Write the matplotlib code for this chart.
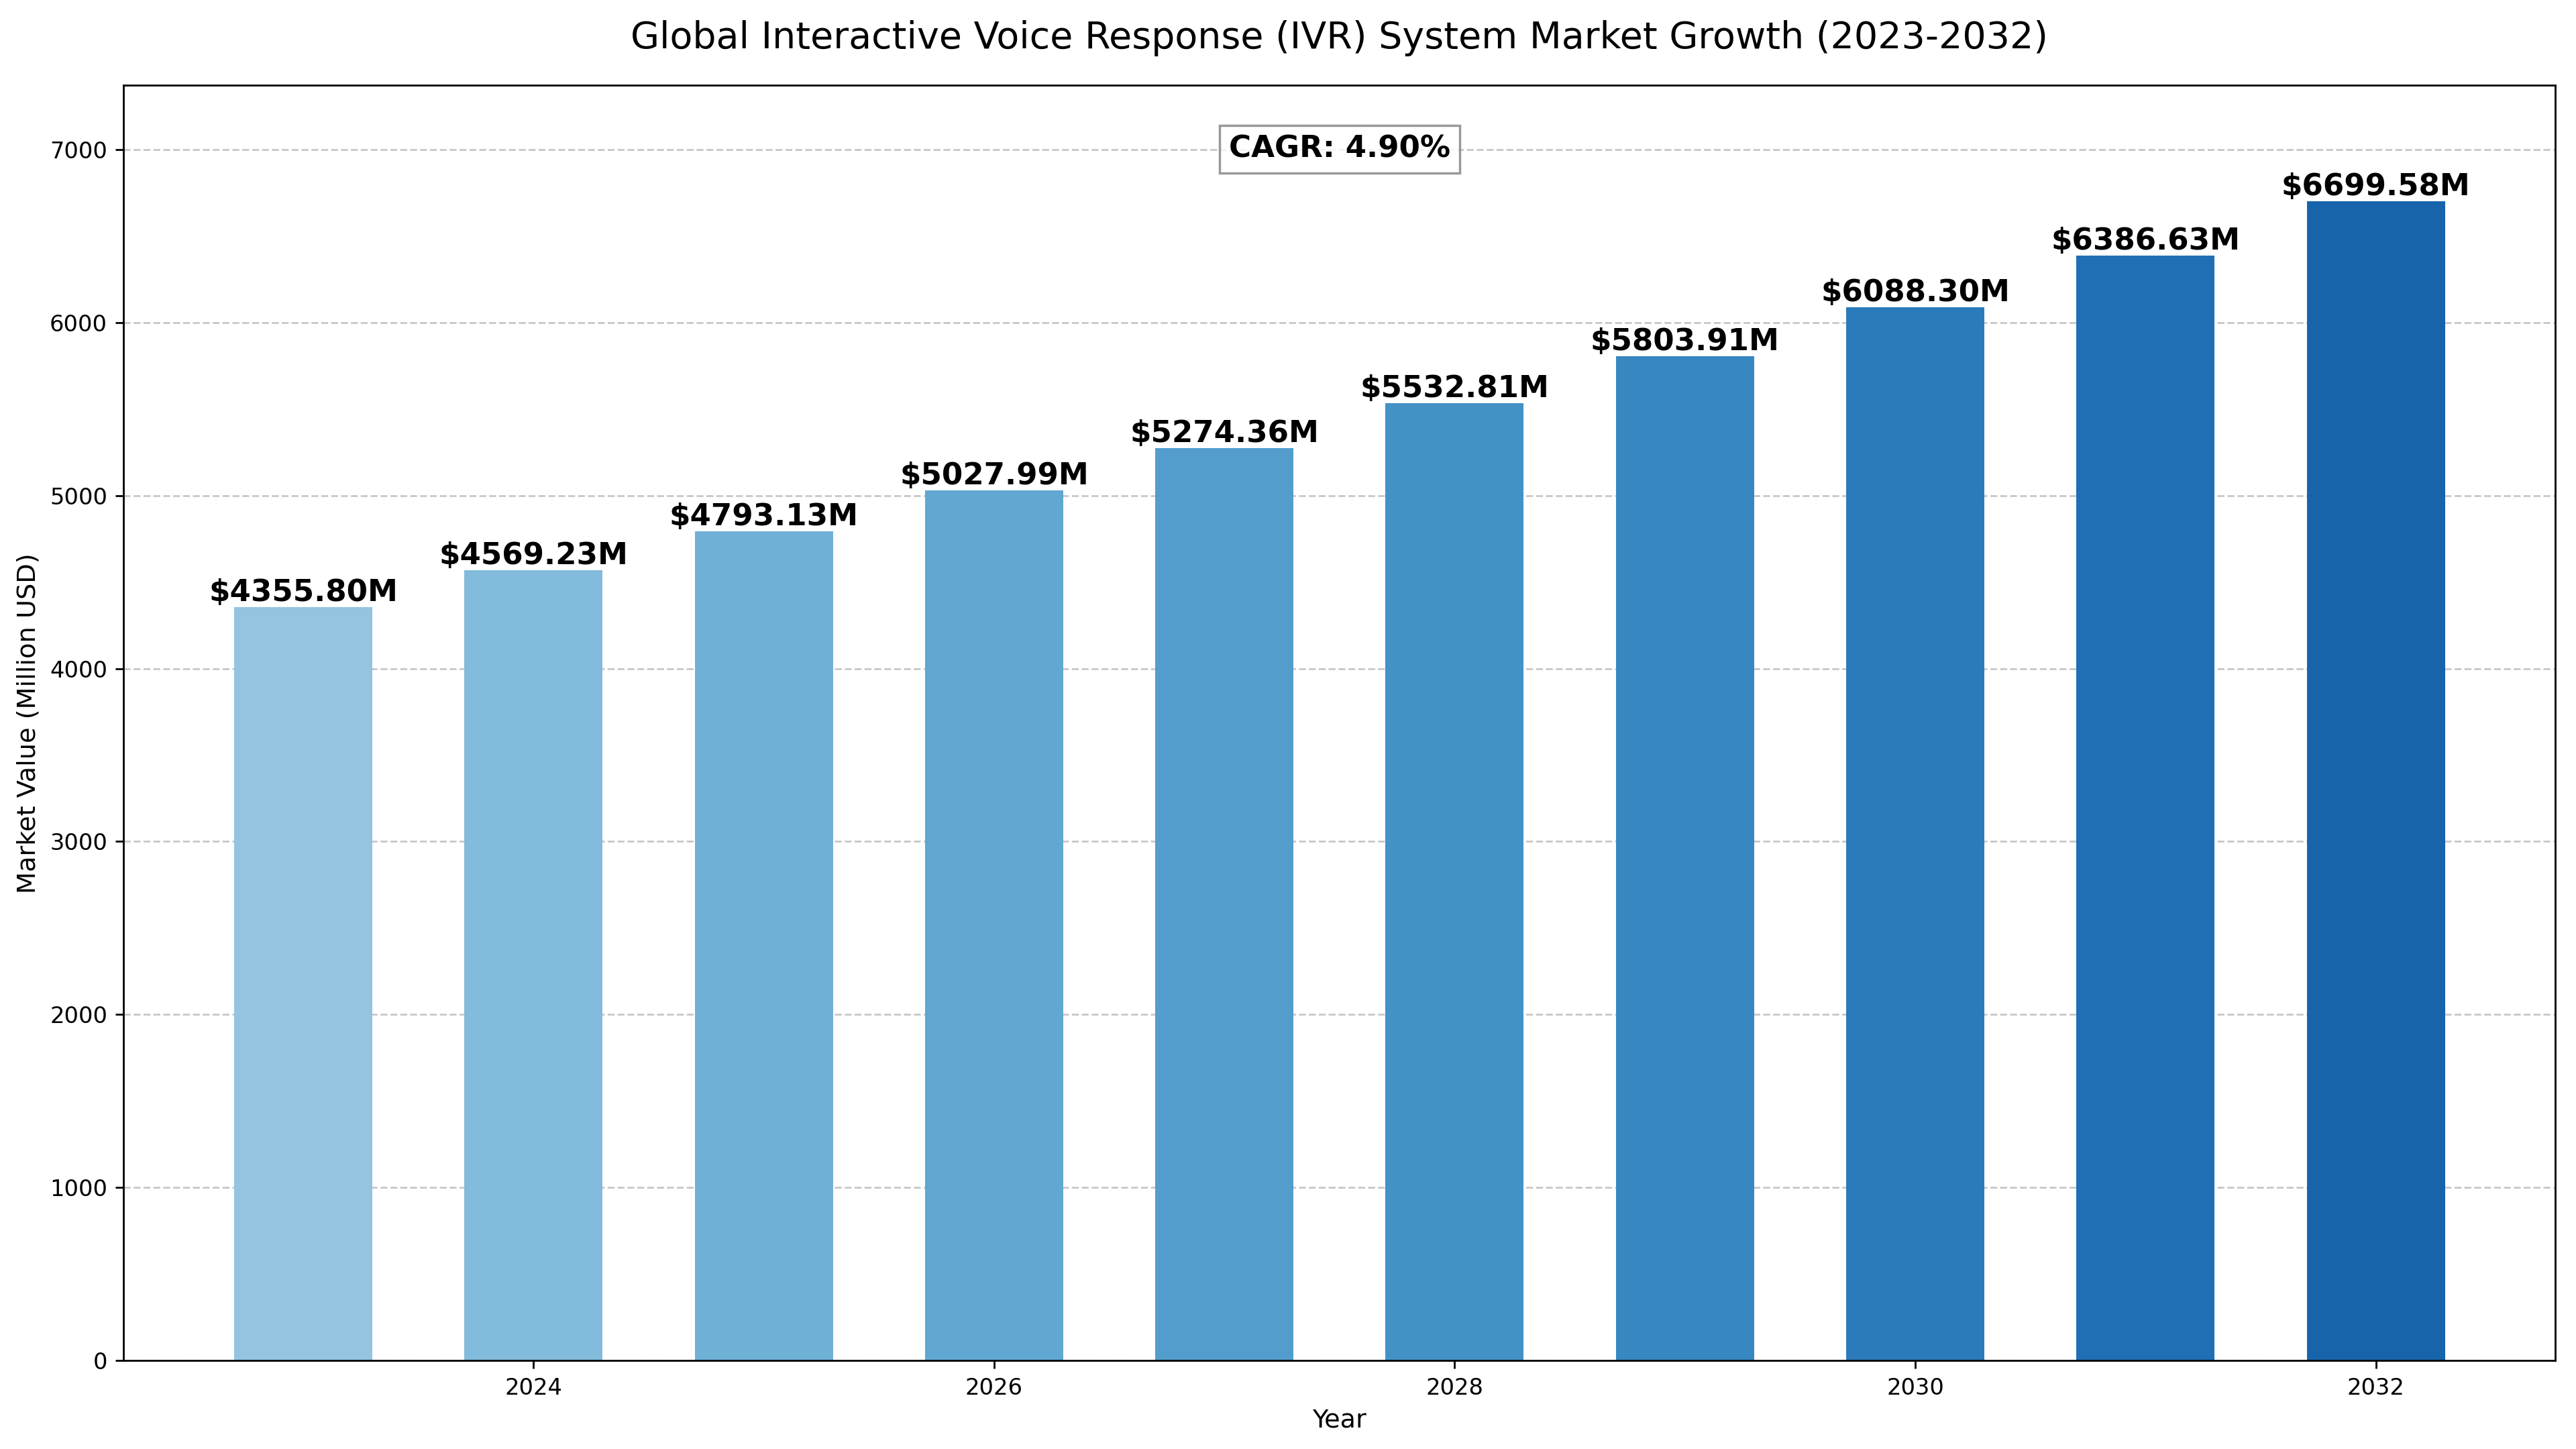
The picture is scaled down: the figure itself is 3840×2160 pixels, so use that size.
import matplotlib
matplotlib.use("Agg")
import matplotlib.pyplot as plt
import numpy as np

years = [2023, 2024, 2025, 2026, 2027, 2028, 2029, 2030, 2031, 2032]
market_values = [4355.80, 4569.23, 4793.13, 5027.99, 5274.36, 5532.81, 5803.91, 6088.30, 6386.63, 6699.58]
cagr_text = "CAGR: 4.90%"
title = "Global Interactive Voice Response (IVR) System Market Growth (2023-2032)"

fig, ax = plt.subplots(figsize=(15.36, 8.64), dpi=250)
colors = plt.cm.Blues(np.linspace(0.4, 0.8, len(years)))
bars = ax.bar(years, market_values, width=0.6, color=colors)

for b, v in zip(bars, market_values):
    ax.text(b.get_x() + b.get_width() / 2, b.get_height(), f"${v:.2f}M",
            ha="center", va="bottom", fontsize=13, fontweight="bold")

ax.set_title(title, fontsize=16, pad=16)
ax.set_xlabel("Year", fontsize=11)
ax.set_ylabel("Market Value (Million USD)", fontsize=11)
ax.tick_params(labelsize=9.7)
ax.set_ylim(0, max(market_values) * 1.1)
ax.set_axisbelow(True)
ax.grid(axis="y", linestyle="--", alpha=0.7)

ax.text(0.5, 0.95, cagr_text, transform=ax.transAxes, ha="center", va="center",
        fontsize=13, fontweight="bold",
        bbox=dict(facecolor="white", alpha=0.8, edgecolor="gray"))

fig.subplots_adjust(left=0.048, right=0.992, top=0.941, bottom=0.061)
fig.savefig("out.png", dpi=250)
